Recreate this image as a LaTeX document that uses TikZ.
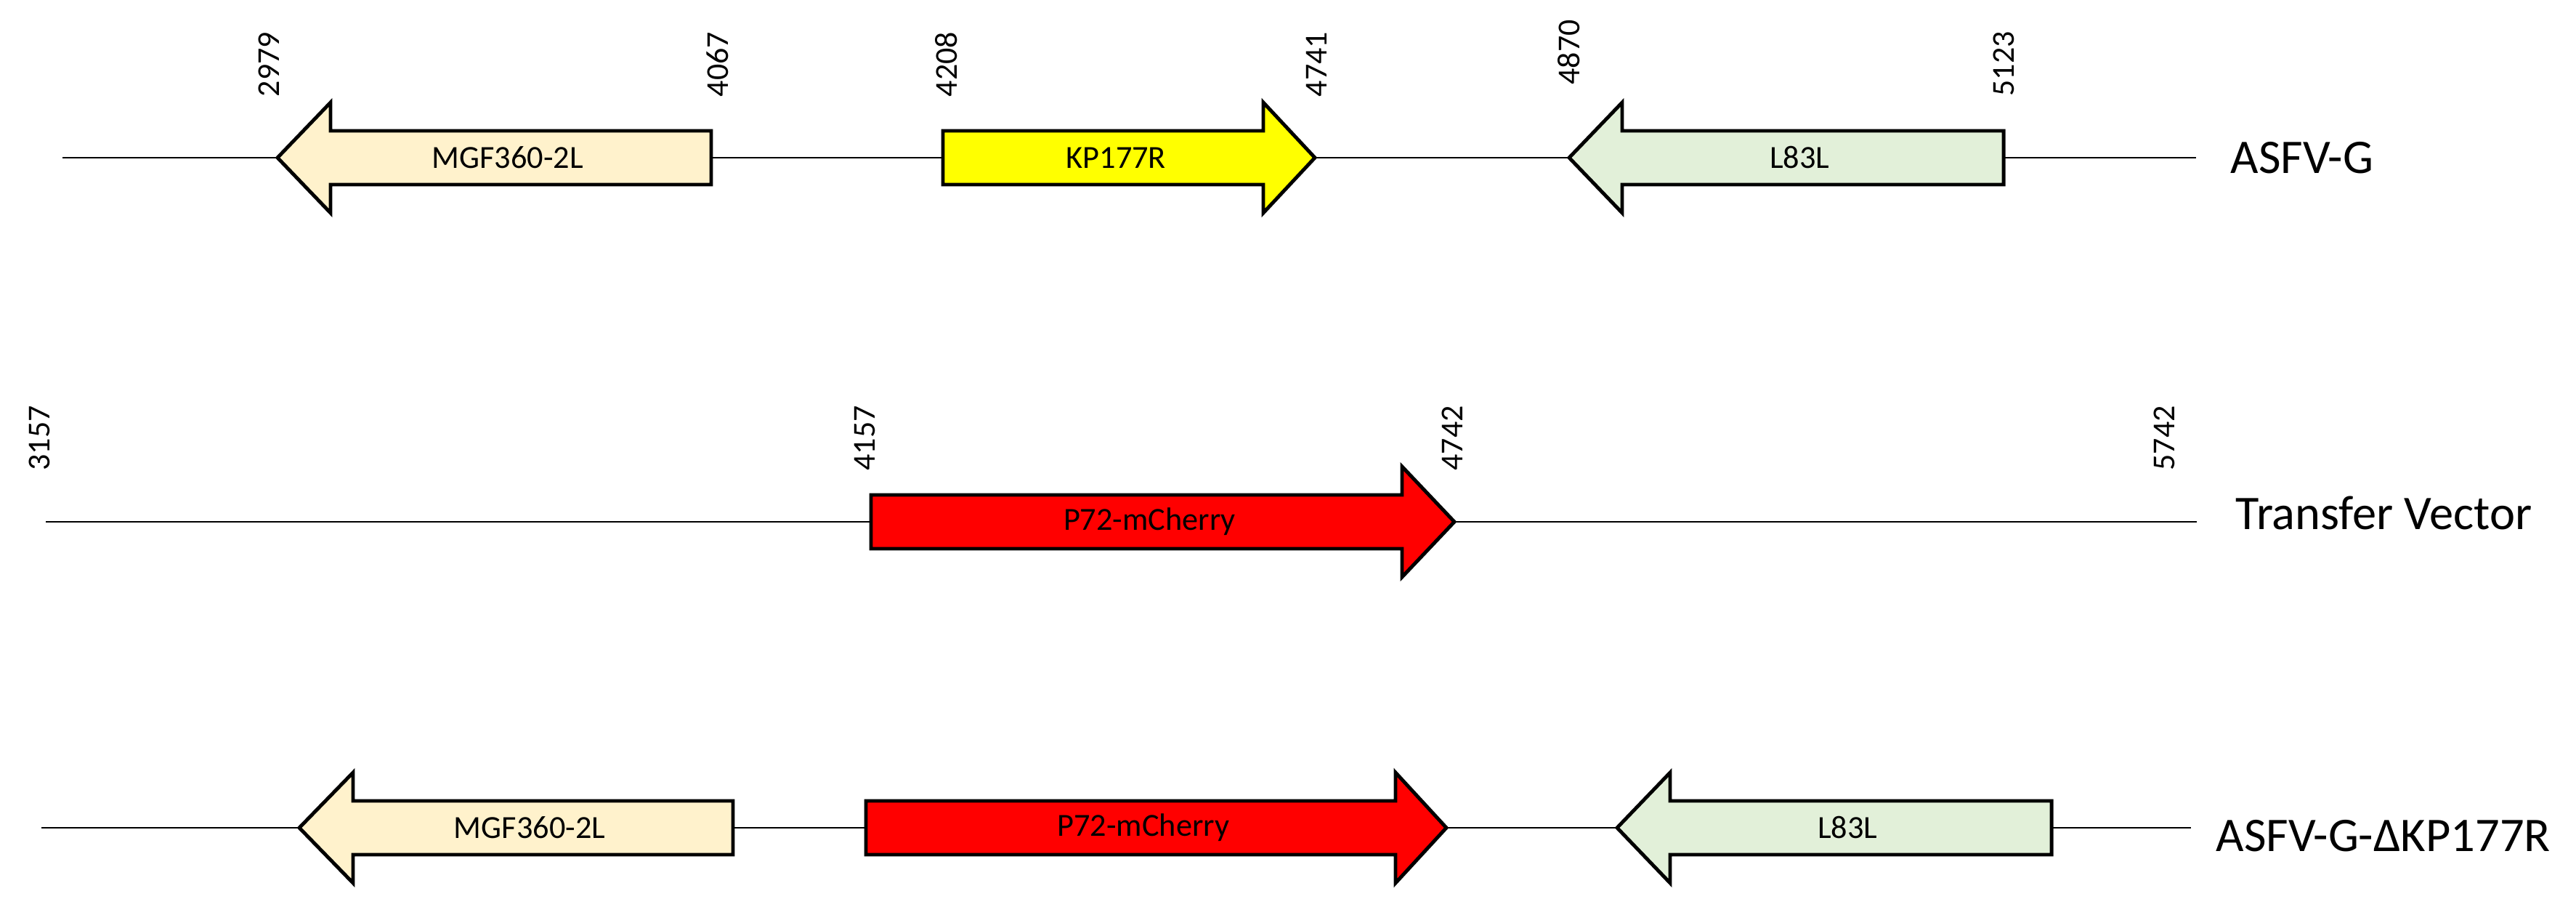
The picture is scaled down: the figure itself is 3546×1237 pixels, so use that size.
\documentclass[tikz,border=0pt]{standalone}
\usepackage{fontspec}
\setmainfont{Carlito}
\definecolor{mgfcol}{HTML}{FFF2CC}
\definecolor{kpcol}{HTML}{FFFF00}
\definecolor{lcol}{HTML}{E2F0D9}
\definecolor{pcol}{HTML}{FF0000}
\newcommand{\gene}[7]{%
  \filldraw[genebox,fill=#6] (#3,#2) -- (#4,#2-76) -- (#4,#2-37) -- (#5,#2-37) -- (#5,#2+37) -- (#4,#2+37) -- (#4,#2+76) -- cycle;
  \node[genelabel] (#1) at ({(#3+#4)/4+#5/2},#2) {#7};}
\begin{document}
\begin{tikzpicture}[x=0.01cm,y=-0.01cm,
  backbone/.style={line width=0.8pt},
  genebox/.style={line width=1.4pt,line join=miter},
  genelabel/.style={inner sep=0pt,font=\fontsize{12.6}{15}\selectfont},
  rowlabel/.style={anchor=west,inner sep=0pt,font=\fontsize{18.9}{22}\selectfont},
  poslabel/.style={rotate=90,anchor=west,inner sep=0pt,font=\fontsize{12.5}{15}\selectfont}]
\useasboundingbox (0,0) rectangle (3546,1237);
\coordinate (g1-start) at (86,217);
\coordinate (g1-stop) at (3023,217);
\coordinate (tv-start) at (63,718);
\coordinate (tv-stop) at (3024,718);
\coordinate (dk-start) at (57,1139);
\coordinate (dk-stop) at (3016,1139);
\draw[backbone] (g1-start) -- (g1-stop);
\draw[backbone] (tv-start) -- (tv-stop);
\draw[backbone] (dk-start) -- (dk-stop);
\gene{mgf1}{217}{382}{455}{979}{mgfcol}{MGF360-2L}
\gene{kp}{217}{1810}{1739}{1298}{kpcol}{KP177R}
\gene{l1}{217}{2160}{2233}{2758}{lcol}{L83L}
\gene{p2}{718}{2002}{1930}{1199}{pcol}{P72-mCherry}
\gene{mgf3}{1139}{412}{486}{1009}{mgfcol}{MGF360-2L}
\gene{p3}{1139}{1991}{1921}{1192}{pcol}{P72-mCherry}
\gene{l3}{1139}{2226}{2299}{2824}{lcol}{L83L}
\node[rowlabel] (asfvg) at (3070,217) {ASFV-G};
\node[rowlabel] (vector) at (3077,706) {Transfer Vector};
\node[rowlabel] (deleted) at (3050,1150) {ASFV-G-ΔKP177R};
\foreach \pos/\x/\y in {2979/370/134,4067/988/134,4208/1303/134,4741/1812/134,4870/2160/117,5123/2758/133,
  3157/54/648,4157/1190/648,4742/1999/648,5742/2979/648}
  \node[poslabel] (n\pos) at (\x,\y) {\pos};
\end{tikzpicture}
\end{document}
